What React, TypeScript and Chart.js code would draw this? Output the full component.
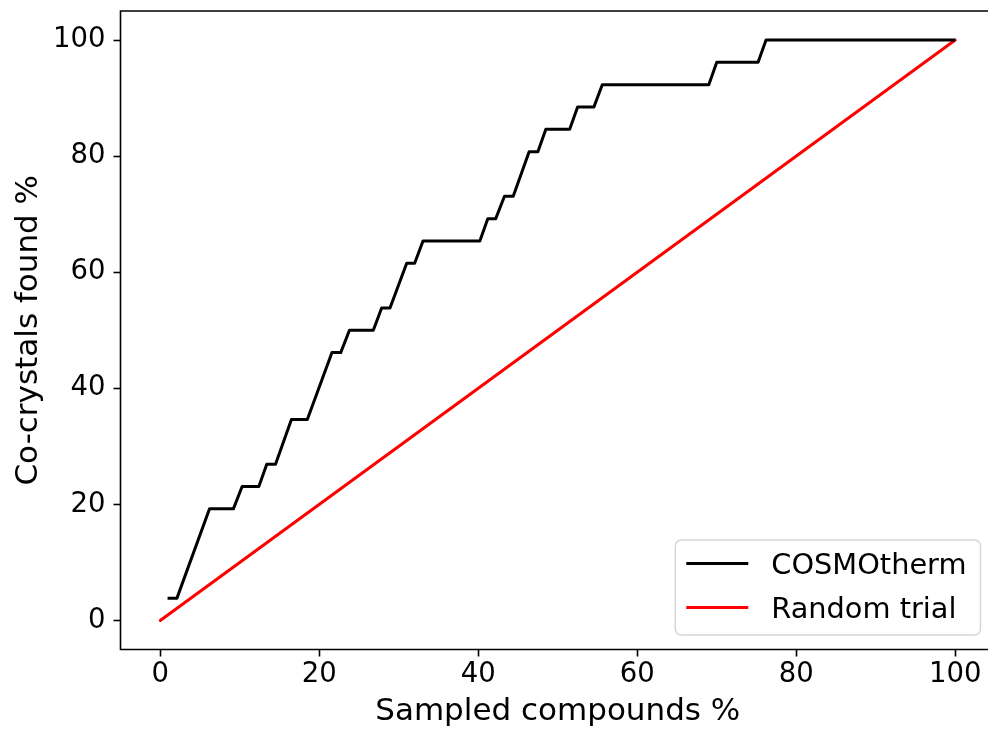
import React, { useEffect, useRef } from 'react';
import { Chart, registerables } from 'chart.js';

Chart.register(...registerables);

// COSMOtherm cumulative curve: corner points of the polyline (x = sampled compounds %, y = co-crystals found %)
const COSMO_X = [0.92, 2.1, 6.2, 9.2, 10.3, 12.4, 13.4, 14.5, 16.5, 18.5, 21.6, 22.7, 23.8, 26.8, 27.85, 28.9, 31.0, 32.0, 33.05, 40.2, 41.2, 42.2, 43.3, 44.4, 46.4, 47.5, 48.5, 51.5, 52.5, 54.55, 55.6, 69.0, 70.0, 75.2, 76.2, 100];
const COSMO_Y = [3.85, 3.85, 19.23, 19.23, 23.08, 23.08, 26.92, 26.92, 34.62, 34.62, 46.15, 46.15, 50.0, 50.0, 53.85, 53.85, 61.54, 61.54, 65.38, 65.38, 69.23, 69.23, 73.08, 73.08, 80.77, 80.77, 84.62, 84.62, 88.46, 88.46, 92.31, 92.31, 96.15, 96.15, 100, 100];

// Random trial: straight diagonal
const RANDOM_X = [0, 100];
const RANDOM_Y = [0, 100];

const X_TICKS = [0, 20, 40, 60, 80, 100];
const Y_TICKS = [0, 20, 40, 60, 80, 100];

const SERIES_LABELS = ['COSMOtherm', 'Random trial'];
const X_TITLE = 'Sampled compounds %';
const Y_TITLE = 'Co-crystals found %';

const X_MIN = -5;
const X_MAX = 105;
const Y_MIN = -5;
const Y_MAX = 105;

const FONT = '"DejaVu Sans", sans-serif';

const framePlugin = {
  id: 'frame',
  afterDraw(chart: any) {
    const { ctx, chartArea } = chart;
    const { left, top, right, bottom } = chartArea;
    ctx.save();
    ctx.strokeStyle = '#000';
    ctx.lineWidth = 1.6;
    ctx.beginPath();
    ctx.moveTo(right + 2, top);
    ctx.lineTo(left, top);
    ctx.lineTo(left, bottom);
    ctx.lineTo(right + 2, bottom);
    ctx.stroke();
    ctx.restore();
  },
};

const legendPlugin = {
  id: 'boxLegend',
  afterDraw(chart: any) {
    const { ctx, chartArea } = chart;
    const items = chart.data.datasets.map((d: any) => ({ label: d.label, color: d.borderColor }));
    ctx.save();
    ctx.font = `28.8px ${FONT}`;
    const textW = Math.max(...items.map((i: any) => ctx.measureText(i.label).width));
    const padL = 11, handle = 62, gap = 23, padR = 14, rowH = 44, padV = 25.5;
    const w = padL + handle + gap + textW + padR;
    const h = padV * 2 + rowH * (items.length - 1);
    const right = chartArea.right - 14.5;
    const bottom = chartArea.bottom - 14.5;
    const left = right - w;
    const top = bottom - h;
    ctx.beginPath();
    ctx.roundRect(left, top, w, h, 6);
    ctx.fillStyle = 'rgba(255,255,255,0.8)';
    ctx.fill();
    ctx.strokeStyle = '#d6d6d6';
    ctx.lineWidth = 1.5;
    ctx.stroke();
    items.forEach((it: any, i: number) => {
      const cy = top + padV + i * rowH;
      ctx.beginPath();
      ctx.moveTo(left + padL, cy - 2);
      ctx.lineTo(left + padL + handle, cy - 2);
      ctx.strokeStyle = it.color;
      ctx.lineWidth = 3;
      ctx.stroke();
      ctx.fillStyle = '#000';
      ctx.textBaseline = 'middle';
      ctx.textAlign = 'left';
      ctx.fillText(it.label, left + padL + handle + gap, cy + 1);
    });
    ctx.restore();
  },
};

export default function App() {
  const ref = useRef<HTMLCanvasElement | null>(null);

  useEffect(() => {
    if (!ref.current) return;
    const chart = new Chart(ref.current, {
      type: 'line',
      data: {
        datasets: [
          {
            label: SERIES_LABELS[0],
            data: COSMO_X.map((x, i) => ({ x, y: COSMO_Y[i] })),
            borderColor: '#000000',
            backgroundColor: '#000000',
            borderWidth: 3,
            pointRadius: 0,
            tension: 0,
            borderJoinStyle: 'round',
            borderCapStyle: 'butt',
            fill: false,
          },
          {
            label: SERIES_LABELS[1],
            data: RANDOM_X.map((x, i) => ({ x, y: RANDOM_Y[i] })),
            borderColor: '#ff0000',
            backgroundColor: '#ff0000',
            borderWidth: 3,
            pointRadius: 0,
            tension: 0,
            borderCapStyle: 'round',
            fill: false,
          },
        ],
      },
      options: {
        animation: false,
        responsive: false,
        maintainAspectRatio: false,
        devicePixelRatio: 1,
        layout: { padding: { top: 11, left: 0, right: 0, bottom: 0 } },
        plugins: {
          legend: { display: false },
          tooltip: { enabled: false },
        },
        scales: {
          x: {
            type: 'linear',
            min: X_MIN,
            max: X_MAX,
            afterBuildTicks: (scale: any) => {
              scale.ticks = X_TICKS.map((v) => ({ value: v }));
            },
            afterFit: (scale: any) => {
              scale.height = 81.5;
            },
            grid: {
              display: true,
              drawOnChartArea: false,
              drawTicks: true,
              tickLength: 7,
              tickWidth: 1.6,
              tickColor: '#000',
            },
            border: { display: false },
            ticks: {
              color: '#000',
              font: { family: FONT, size: 27.5 },
              padding: 2,
              maxRotation: 0,
              callback: (v: any) => String(v),
            },
            title: {
              display: true,
              text: X_TITLE,
              color: '#000',
              font: { family: FONT, size: 31 },
              padding: { top: 0, bottom: 0 },
            },
          },
          y: {
            type: 'linear',
            min: Y_MIN,
            max: Y_MAX,
            afterBuildTicks: (scale: any) => {
              scale.ticks = Y_TICKS.map((v) => ({ value: v }));
            },
            afterFit: (scale: any) => {
              scale.width = 120.5;
            },
            grid: {
              display: true,
              drawOnChartArea: false,
              drawTicks: true,
              tickLength: 7,
              tickWidth: 1.6,
              tickColor: '#000',
            },
            border: { display: false },
            ticks: {
              color: '#000',
              font: { family: FONT, size: 27.5, lineHeight: 0.2 },
              padding: 8,
              callback: (v: any) => String(v),
            },
            title: {
              display: true,
              text: Y_TITLE,
              color: '#000',
              font: { family: FONT, size: 31 },
              padding: { top: 10, bottom: 0 },
            },
          },
        },
      },
      plugins: [framePlugin, legendPlugin],
    });
    return () => chart.destroy();
  }, []);

  return (
    <div style={{ position: 'fixed', left: 0, top: 0, width: 988, height: 731, overflow: 'hidden', background: '#fff' }}>
      <canvas ref={ref} width={995} height={731} style={{ display: 'block', width: 995, height: 731 }} />
    </div>
  );
}
